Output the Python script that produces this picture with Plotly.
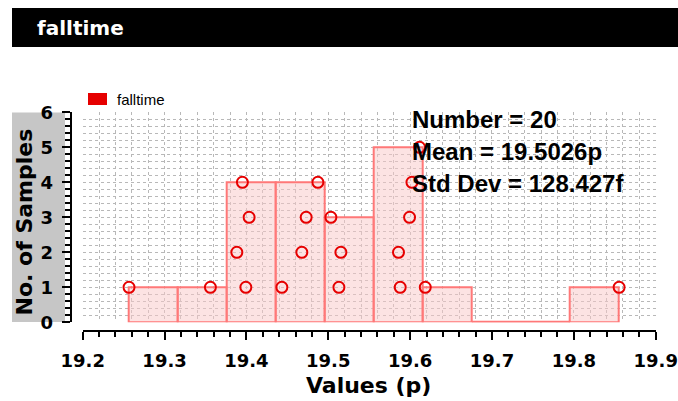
import numpy as np
import plotly.graph_objects as go

# ---- data -------------------------------------------------------------
title_text = "falltime"
series_name = "falltime"
x_label = "Values (p)"
y_label = "No. of Samples"

# fall-time samples in ps, in acquisition order
samples = [
    19.2566, 19.3560,
    19.3993, 19.3883, 19.4033, 19.3951,
    19.4433, 19.4677, 19.4730, 19.4873,
    19.5130, 19.5154, 19.5032,
    19.5879, 19.5858, 19.5993, 19.6022, 19.6115,
    19.6185,
    19.8553,
]
n_bins = 10
stats_lines = ["Number = 20", "Mean = 19.5026p", "Std Dev = 128.427f"]

x_range = [19.2, 19.9]
y_range = [0, 6]
x_tickvals = [19.2, 19.3, 19.4, 19.5, 19.6, 19.7, 19.8, 19.9]
x_ticktext = ["19.2", "19.3", "19.4", "19.5", "19.6", "19.7", "19.8", "19.9"]
y_tickvals = [0, 1, 2, 3, 4, 5, 6]

# ---- layout helpers ----------------------------------------------------
W, H = 678, 401


def fx(px):
    return px / W


def fy(py):
    return 1 - py / H


BOLD = "DejaVu Sans"
RED = "#e60000"
BAR_FILL = "rgba(250,200,200,0.5)"
BAR_LINE = "#ff7878"
GRID = "#b8b8b8"

# ---- histogram ---------------------------------------------------------
vals = np.array(samples)
counts, edges = np.histogram(vals, bins=n_bins, range=(vals.min(), vals.max()))
centers = (edges[:-1] + edges[1:]) / 2
width = edges[1] - edges[0]

# stack height of each sample inside its own bin
bin_idx = np.clip(np.searchsorted(edges, vals, side="right") - 1, 0, n_bins - 1)
seen = [0] * n_bins
stack = []
for b in bin_idx:
    seen[b] += 1
    stack.append(seen[b])

fig = go.Figure()

fig.add_trace(go.Bar(
    x=centers, y=counts, width=width,
    marker=dict(color=BAR_FILL, line=dict(color=BAR_LINE, width=2)),
    showlegend=False, hoverinfo="skip",
))

# empty bins are drawn as a flat run along zero
i = 0
while i < n_bins:
    if counts[i] == 0:
        j = i
        while j + 1 < n_bins and counts[j + 1] == 0:
            j += 1
        fig.add_trace(go.Scatter(
            x=[edges[i], edges[j + 1]], y=[0, 0], mode="lines",
            line=dict(color=BAR_LINE, width=3), showlegend=False, hoverinfo="skip",
        ))
        i = j + 1
    else:
        i += 1

fig.add_trace(go.Scatter(
    x=vals, y=stack, mode="markers",
    marker=dict(symbol="circle-open", size=11, color=RED, line=dict(width=2)),
    showlegend=False,
))

# ---- axes --------------------------------------------------------------
tick_font = dict(family=BOLD, size=18, color="black", weight="bold")

fig.update_xaxes(
    range=x_range, domain=[fx(82.7), fx(655.7)],
    anchor="free", position=fy(330.7),
    tickvals=x_tickvals, ticktext=x_ticktext, tickfont=tick_font,
    ticks="outside", ticklen=8, tickwidth=2, tickcolor="black",
    showline=True, linecolor="black", linewidth=2,
    showgrid=True, gridcolor=GRID, griddash="dot", gridwidth=1,
    minor=dict(dtick=0.02, ticks="outside", ticklen=5, tickwidth=1.5,
               tickcolor="black", showgrid=True, gridcolor=GRID, griddash="dot"),
    zeroline=False, automargin=False, ticklabelstandoff=6,
)
fig.update_yaxes(
    range=y_range, domain=[fy(322.3), fy(112.3)],
    anchor="free", position=fx(70.7),
    tickvals=y_tickvals, tickfont=tick_font,
    ticks="outside", ticklen=8, tickwidth=2, tickcolor="black",
    showline=True, linecolor="black", linewidth=2,
    showgrid=True, gridcolor=GRID, griddash="dot", gridwidth=1,
    minor=dict(dtick=0.2, ticks="outside", ticklen=5, tickwidth=1.5,
               tickcolor="black", showgrid=True, gridcolor=GRID, griddash="dot"),
    zeroline=False, automargin=False, ticklabelstandoff=5,
)

# ---- decorations -------------------------------------------------------
shapes = [
    # title bar
    dict(type="rect", xref="paper", yref="paper", x0=fx(12), x1=fx(678),
         y0=fy(47), y1=fy(8), fillcolor="black", line=dict(width=0), layer="below"),
    # y title panel
    dict(type="rect", xref="paper", yref="paper", x0=fx(12), x1=fx(65),
         y0=fy(322), y1=fy(112.5), fillcolor="#c6c6c6", line=dict(width=0), layer="below"),
    # legend swatch
    dict(type="rect", xref="paper", yref="paper", x0=fx(88), x1=fx(107),
         y0=fy(105), y1=fy(93), fillcolor=RED, line=dict(width=0)),
]

annotations = [
    dict(text=title_text, x=fx(35), y=fy(27.5), xanchor="left", yanchor="middle",
         font=dict(family=BOLD, size=20, color="white", weight="bold")),
    dict(text=series_name, x=fx(115), y=fy(99), xanchor="left", yanchor="middle",
         font=dict(family="Liberation Sans", size=15, color="black")),
    dict(text=y_label, x=fx(23.5), y=fy(222), textangle=-90,
         xanchor="center", yanchor="middle",
         font=dict(family=BOLD, size=22, color="black", weight="bold")),
    dict(text=x_label, x=fx(369), y=fy(385), xanchor="center", yanchor="middle",
         font=dict(family=BOLD, size=22, color="black", weight="bold")),
]
for line, yc in zip(stats_lines, [119, 152, 183]):
    annotations.append(dict(
        text=line, x=fx(410), y=fy(yc), xanchor="left", yanchor="middle",
        font=dict(family="Liberation Sans", size=24, color="black", weight="bold"),
    ))
for a in annotations:
    a.update(xref="paper", yref="paper", showarrow=False)

fig.update_layout(
    width=W, height=H, margin=dict(l=0, r=0, t=0, b=0),
    paper_bgcolor="white", plot_bgcolor="white",
    shapes=shapes, annotations=annotations,
    bargap=0, showlegend=False,
)

fig.write_html("out.html")
